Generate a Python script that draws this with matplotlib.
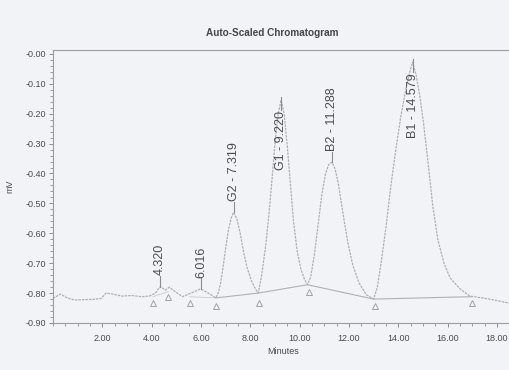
import matplotlib
matplotlib.use("Agg")
import matplotlib.pyplot as plt
from matplotlib.ticker import MultipleLocator, FixedLocator, FixedFormatter

plt.rcParams['font.family'] = ['Liberation Sans', 'DejaVu Sans']

# ---- data ----
trace_t = [0.0, 0.3, 0.55, 0.85, 1.2, 1.6, 1.95, 2.15, 2.4, 2.8, 3.2, 3.6, 3.9,
           4.15, 4.35, 4.55, 4.72, 4.95, 5.25, 5.6, 5.98, 6.3, 6.6, 6.7, 6.8, 6.9,
           7.0, 7.11, 7.22, 7.32, 7.45, 7.59, 7.72, 7.87, 8.05, 8.2, 8.32, 8.45,
           8.61, 8.75, 8.88, 9.0, 9.13, 9.25, 9.37, 9.5, 9.62, 9.75, 9.9, 10.05,
           10.2, 10.32, 10.45, 10.6, 10.75, 10.9, 11.05, 11.18, 11.31, 11.44,
           11.58, 11.75, 11.95, 12.15, 12.4, 12.7, 13.0, 13.15, 13.3, 13.5, 13.7,
           13.9, 14.1, 14.3, 14.45, 14.58, 14.72, 14.87, 15.02, 15.2, 15.4, 15.6,
           15.85, 16.1, 16.5, 16.9, 17.7, 18.65]
trace_v = [-0.818, -0.803, -0.815, -0.823, -0.822, -0.821, -0.818, -0.800, -0.803,
           -0.810, -0.808, -0.812, -0.810, -0.800, -0.778, -0.790, -0.780, -0.795,
           -0.812, -0.800, -0.786, -0.800, -0.816, -0.800, -0.765, -0.710, -0.650,
           -0.590, -0.550, -0.530, -0.550, -0.600, -0.660, -0.715, -0.760, -0.785,
           -0.800, -0.745, -0.650, -0.540, -0.420, -0.300, -0.200, -0.154, -0.200,
           -0.310, -0.430, -0.560, -0.660, -0.720, -0.755, -0.772, -0.745, -0.670,
           -0.570, -0.470, -0.400, -0.370, -0.362, -0.385, -0.440, -0.530, -0.630,
           -0.705, -0.765, -0.805, -0.820, -0.780, -0.700, -0.580, -0.440, -0.320,
           -0.210, -0.120, -0.065, -0.027, -0.070, -0.140, -0.230, -0.360, -0.510,
           -0.620, -0.700, -0.749, -0.786, -0.810, -0.820, -0.836]

# integration baselines
base_t = [6.6, 8.32, 10.32, 13.0, 16.95]
base_v = [-0.816, -0.800, -0.772, -0.820, -0.812]
small_base_t = [[4.06, 4.67], [5.55, 6.6]]
small_base_v = [[-0.812, -0.795], [-0.812, -0.816]]

# start/end markers
tri_t = [4.06, 4.67, 5.55, 6.6, 8.36, 10.36, 13.07, 16.97]
tri_v = [-0.833, -0.812, -0.833, -0.843, -0.833, -0.795, -0.843, -0.833]

# peak labels
peak_t = [4.32, 6.016, 7.319, 9.25, 11.31, 14.58]
peak_v = [-0.778, -0.786, -0.530, -0.154, -0.362, -0.027]
peak_labels = ["4.320", "6.016", "G2 - 7.319", "G1 - 9.220", "B2 - 11.288", "B1 - 14.579"]
peak_inside = [False, False, False, True, False, True]

xtick_vals = [2, 4, 6, 8, 10, 12, 14, 16, 18]
xtick_labels = ["2.00", "4.00", "6.00", "8.00", "10.00", "12.00", "14.00", "16.00", "18.00"]
ytick_vals = [-0.9, -0.8, -0.7, -0.6, -0.5, -0.4, -0.3, -0.2, -0.1, 0.0]
ytick_labels = ["-0.90", "-0.80", "-0.70", "-0.60", "-0.50", "-0.40", "-0.30",
                "-0.20", "-0.10", "-0.00"]

BG = '#f1f3f7'
LINE = '#aeb0b4'
TXT = '#4a4c4e'

fig = plt.figure(figsize=(5.09, 3.70), dpi=100, facecolor=BG)
ax = fig.add_axes([53 / 509, 1 - 323 / 370, (513 - 53) / 509, (323 - 50) / 370])
ax.set_facecolor(BG)

ax.plot(trace_t, trace_v, color=LINE, lw=0.9, ls=(0, (2.0, 0.8)))
ax.plot(base_t, base_v, color=LINE, lw=0.8)
for bt, bv in zip(small_base_t, small_base_v):
    ax.plot(bt, bv, color=LINE, lw=0.6, alpha=0.6)
ax.plot(tri_t, tri_v, ls='none', marker='^', ms=5, mfc='none', mec='#a0a2a6', mew=0.7)

for t, v, lab, inside in zip(peak_t, peak_v, peak_labels, peak_inside):
    if inside:
        ax.plot([t, t], [v + 0.01, v - 0.035], color='#8a8c90', lw=0.8)
        ax.text(t, v - 0.038, lab, rotation=90, ha='center', va='top',
                fontsize=9, color=TXT)
    else:
        ax.plot([t, t], [v, v + 0.035], color='#8a8c90', lw=0.8)
        ax.text(t, v + 0.038, lab, rotation=90, ha='center', va='bottom',
                fontsize=9, color=TXT)

ax.set_xlim(0, 18.65)
ax.set_ylim(-0.90, 0.013)

ax.xaxis.set_major_locator(FixedLocator(xtick_vals))
ax.xaxis.set_major_formatter(FixedFormatter(xtick_labels))
ax.xaxis.set_minor_locator(MultipleLocator(0.5))
ax.yaxis.set_major_locator(FixedLocator(ytick_vals))
ax.yaxis.set_major_formatter(FixedFormatter(ytick_labels))
ax.yaxis.set_minor_locator(MultipleLocator(0.02))

ax.tick_params(axis='both', which='major', labelsize=6.5, colors='#8a8c90',
               labelcolor=TXT, length=3, width=0.7, pad=2)
ax.tick_params(axis='both', which='minor', colors='#8a8c90', length=2, width=0.6)
ax.tick_params(axis='x', which='major', pad=5)

for s in ['left', 'bottom', 'top']:
    ax.spines[s].set_color('#9a9ca0')
    ax.spines[s].set_linewidth(0.8)
ax.spines['right'].set_visible(False)

ax.set_xlabel("Minutes", fontsize=6.5, color=TXT, labelpad=3)
ax.set_ylabel("mV", fontsize=6.5, color=TXT, labelpad=8)
fig.text(272 / 509, 1 - 33 / 370, "Auto-Scaled Chromatogram", ha='center', va='center',
         fontsize=7.2, fontweight='bold', color='#444648')

fig.savefig("out.png", dpi=100, facecolor=BG)
